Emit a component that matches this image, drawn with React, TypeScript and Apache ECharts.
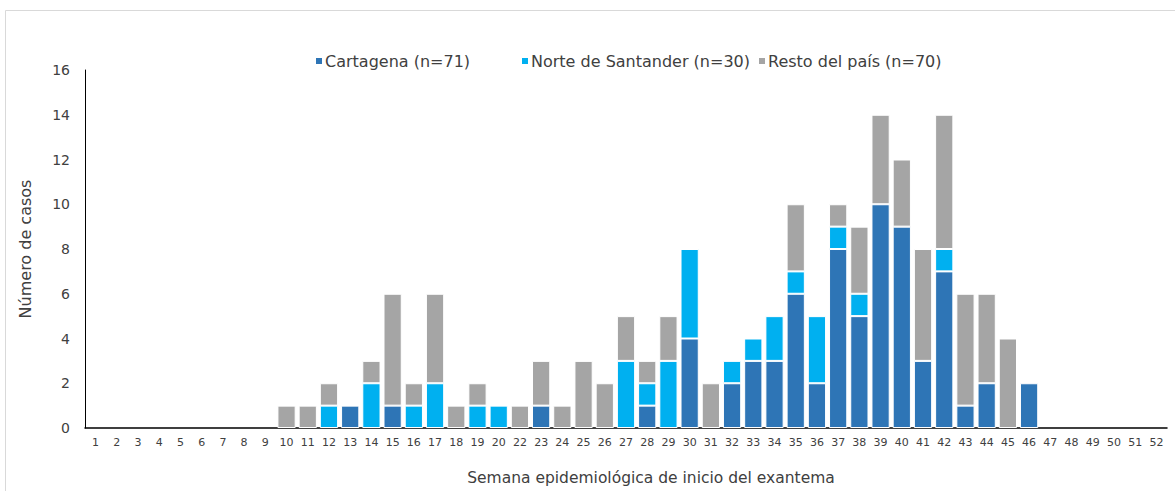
import React, { useEffect, useRef } from "react";
import * as echarts from "echarts";

const weeks = [
  "1","2","3","4","5","6","7","8","9","10","11","12","13","14","15","16","17","18","19","20",
  "22","23","24","25","26","27","28","29","30","31","32","33","34","35","36","37","38","39","40",
  "41","42","43","44","45","46","47","48","49","50","51","52",
];

// values per week, same order as weeks
const cartagena = [
  0,0,0,0,0,0,0,0,0,0,0,0,1,0,1,0,0,0,0,0,
  0,1,0,0,0,0,1,0,4,0,2,3,3,6,2,8,5,10,9,
  3,7,1,2,0,2,0,0,0,0,0,0,
];
const norte = [
  0,0,0,0,0,0,0,0,0,0,0,1,0,2,0,1,2,0,1,1,
  0,0,0,0,0,3,1,3,4,0,1,1,2,1,3,1,1,0,0,
  0,1,0,0,0,0,0,0,0,0,0,0,
];
const resto = [
  0,0,0,0,0,0,0,0,0,1,1,1,0,1,5,1,4,1,1,0,
  1,2,1,3,2,2,1,2,0,2,0,0,0,3,0,1,3,4,3,
  5,6,5,4,4,0,0,0,0,0,0,0,
];

const seriesNames = ["Cartagena (n=71)", "Norte de Santander (n=30)", "Resto del país (n=70)"];
const seriesColors = ["#2E75B6", "#00B0F0", "#A5A5A5"];
const yTicks = [0, 2, 4, 6, 8, 10, 12, 14, 16];

const FONT = "DejaVu Sans, Verdana, sans-serif";
const legendLefts = [309, 515, 752];

export default function App() {
  const ref = useRef<HTMLDivElement>(null);
  useEffect(() => {
    document.body.style.margin = "0";
    const chart = echarts.init(ref.current!, null, { renderer: "svg" });
    const data = [cartagena, norte, resto];
    chart.setOption({
      animation: false,
      textStyle: { fontFamily: FONT },
      graphic: [
        {
          type: "rect",
          shape: { x: 5.5, y: 10.5, width: 1180, height: 500 },
          style: { fill: "none", stroke: "#d9d9d9", lineWidth: 1 },
          silent: true,
        },
      ],
      legend: seriesNames.map((n, i) => ({
        top: 48,
        left: legendLefts[i],
        itemWidth: 8,
        itemHeight: 8,
        icon: "rect",
        textStyle: { fontFamily: FONT, fontSize: 16, color: "#404040", padding: [0, 0, 0, -3] },
        data: [n],
      })),
      grid: { left: 85, right: 8, top: 70, bottom: 61, containLabel: false },
      xAxis: {
        type: "category",
        data: weeks,
        axisLine: { lineStyle: { color: "#000", width: 1.5 } },
        axisTick: { show: false },
        axisLabel: { fontFamily: FONT, fontSize: 11, color: "#404040", margin: 9, interval: 0 },
        name: "Semana epidemiológica de inicio del exantema",
        nameLocation: "middle",
        nameGap: 42,
        nameTextStyle: { fontFamily: FONT, fontSize: 15.5, color: "#404040", padding: [0, 0, 0, 50] },
      },
      yAxis: {
        type: "value",
        min: yTicks[0],
        max: yTicks[yTicks.length - 1],
        interval: 2,
        axisLine: { show: true, lineStyle: { color: "#000", width: 1 } },
        axisTick: { show: false },
        splitLine: { show: false },
        axisLabel: { fontFamily: FONT, fontSize: 14, color: "#404040", margin: 15 },
        name: "Número de casos",
        nameLocation: "middle",
        nameGap: 52,
        nameTextStyle: { fontFamily: FONT, fontSize: 16, color: "#404040" },
      },
      series: seriesNames.map((name, i) => ({
        name,
        type: "bar",
        stack: "total",
        data: data[i].map((v) => (v === 0 ? null : v)),
        barCategoryGap: "14%",
        itemStyle: { color: seriesColors[i], borderColor: "#ffffff", borderWidth: 1 },
      })),
    });
    return () => chart.dispose();
  }, []);
  return <div ref={ref} style={{ width: 1175, height: 491 }} />;
}
